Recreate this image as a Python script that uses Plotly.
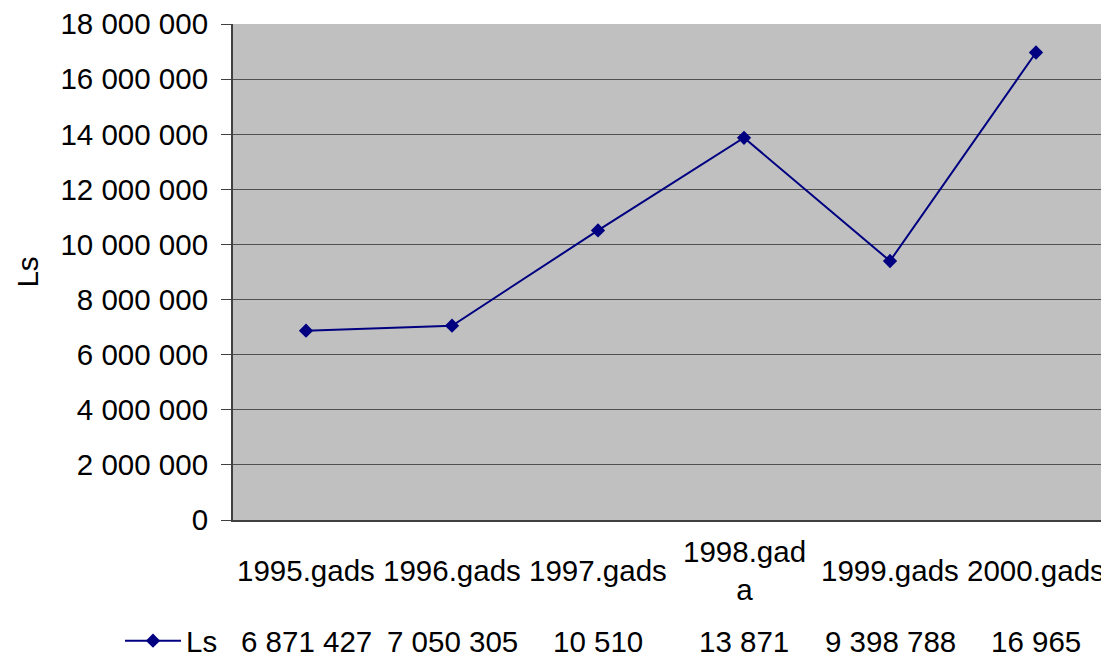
import plotly.graph_objects as go

categories = ["1995.gads", "1996.gads", "1997.gads", "1998.gad<br>a", "1999.gads", "2000.gads"]
values = [6871427, 7050305, 10510000, 13871000, 9398788, 16965000]
table_text = ["6 871 427", "7 050 305", "10 510", "13 871", "9 398 788", "16 965"]
series_name = "Ls"
y_ticks = list(range(0, 18000001, 2000000))

FONT = "Liberation Sans, Arial, sans-serif"
FS = 29.5

x_idx = list(range(len(categories)))

fig = go.Figure()
fig.add_trace(go.Scatter(
    x=x_idx, y=values, mode="lines+markers", name=series_name,
    line=dict(color="#000080", width=2),
    marker=dict(symbol="diamond", size=11, color="#000080"),
))

annotations = []
for i, c in enumerate(categories):
    annotations.append(dict(x=i, y=-0.101, xref="x", yref="paper", text=c,
                            showarrow=False, yanchor="middle", xanchor="center",
                            font=dict(family=FONT, size=FS, color="black")))
    annotations.append(dict(x=i, y=-0.244, xref="x", yref="paper", text=table_text[i],
                            showarrow=False, yanchor="middle", xanchor="center",
                            font=dict(family=FONT, size=FS, color="black")))

fig.update_layout(
    width=1101, height=651,
    margin=dict(l=225, r=0, t=16, b=139, autoexpand=False),
    paper_bgcolor="white", plot_bgcolor="#C0C0C0",
    separators=". ",
    font=dict(family=FONT, size=FS, color="black"),
    showlegend=True,
    legend=dict(x=-0.129, y=-0.244, xanchor="left", yanchor="middle",
                bgcolor="rgba(0,0,0,0)", font=dict(size=FS), itemwidth=56),
    annotations=annotations,
    xaxis=dict(range=[-0.5, 5.5], showticklabels=False, showgrid=False,
               zeroline=False, showline=True, linecolor="#404040", linewidth=2,
               ticks=""),
    yaxis=dict(range=[0, 18000000], tickvals=y_ticks, tickformat=",d",
               showgrid=True, gridcolor="#505050", gridwidth=1.3,
               zeroline=False, showline=True, linecolor="#404040", linewidth=2,
               ticks="outside", ticklen=10, tickcolor="#404040", tickwidth=1.3,
               ticklabelstandoff=7, ticklabeloverflow="allow",
               tickfont=dict(family=FONT, size=FS),
               title=dict(text=series_name, standoff=13, font=dict(family=FONT, size=FS))),
)

fig.write_html("out.html", post_script="document.body.style.overflow='hidden';")
